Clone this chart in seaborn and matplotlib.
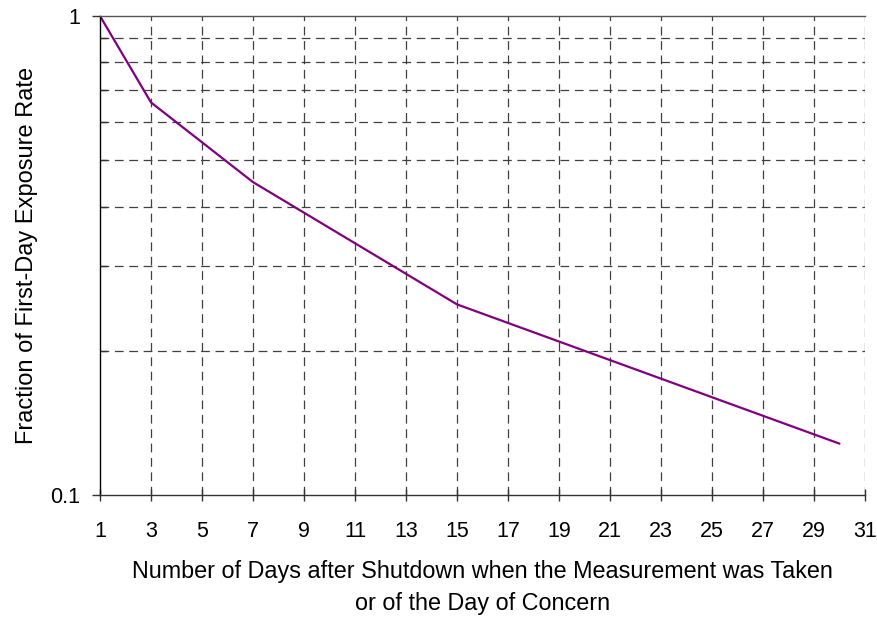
import numpy as np
import pandas as pd
import matplotlib
matplotlib.use("Agg")
import matplotlib.pyplot as plt
import seaborn as sns
from matplotlib.ticker import FixedLocator, NullFormatter

# data
days = [1, 3, 7, 15, 30]
fraction = [1.0, 0.66, 0.45, 0.25, 0.128]
x_ticks = list(range(1, 32, 2))
y_minor = [0.2, 0.3, 0.4, 0.5, 0.6, 0.7, 0.8, 0.9]

sns.set_theme(style="white")
plt.rcParams['font.family'] = ['Liberation Sans', 'DejaVu Sans']
plt.rcParams['text.color'] = 'black'
plt.rcParams['axes.labelcolor'] = 'black'
plt.rcParams['xtick.color'] = 'black'
plt.rcParams['ytick.color'] = 'black'

df = pd.DataFrame({"Day": days, "Fraction": fraction})

fig = plt.figure(figsize=(8.78, 6.18), dpi=100)
ax = fig.add_axes([100 / 878, 1 - 495 / 618, 765 / 878, 479 / 618])

sns.lineplot(data=df, x="Day", y="Fraction", color="#800080", linewidth=1.6, ax=ax)

ax.set_yscale("log")
ax.set_xlim(1, 31)
ax.set_ylim(0.1, 1)

ax.set_xticks(x_ticks)
ax.set_xticklabels([str(t) for t in x_ticks], fontsize=15.5)
ax.set_yticks([0.1, 1])
ax.set_yticklabels(["0.1", "1"], fontsize=15.5)
ax.yaxis.set_minor_locator(FixedLocator(y_minor))
ax.yaxis.set_minor_formatter(NullFormatter())

# dashed grid
for x in x_ticks[1:]:
    ax.axvline(x, color="#404040", linestyle=(0, (7, 4.5)), linewidth=0.9, zorder=0)
for y in y_minor:
    ax.axhline(y, color="#404040", linestyle=(0, (7, 4.5)), linewidth=0.9, zorder=0)

ax.spines["right"].set_visible(False)
ax.spines["top"].set_color("#555555")
ax.spines["left"].set_color("black")
ax.spines["bottom"].set_color("#333333")
for s in ["top", "left", "bottom"]:
    ax.spines[s].set_linewidth(1.0)

ax.tick_params(axis="x", which="major", direction="inout", length=8, width=1, color="#333333", pad=15, bottom=True)
ax.tick_params(axis="y", which="major", direction="out", length=6, width=1, color="#333333", pad=8, left=True)
ax.tick_params(axis="y", which="minor", direction="in", length=5, width=1, color="#333333", left=True)

ax.set_xlabel("Number of Days after Shutdown when the Measurement was Taken\nor of the Day of Concern",
              fontsize=16.8, labelpad=13, linespacing=1.45)
ax.set_ylabel("Fraction of First-Day Exposure Rate", fontsize=17, labelpad=9)

fig.savefig("out.png", dpi=100)
